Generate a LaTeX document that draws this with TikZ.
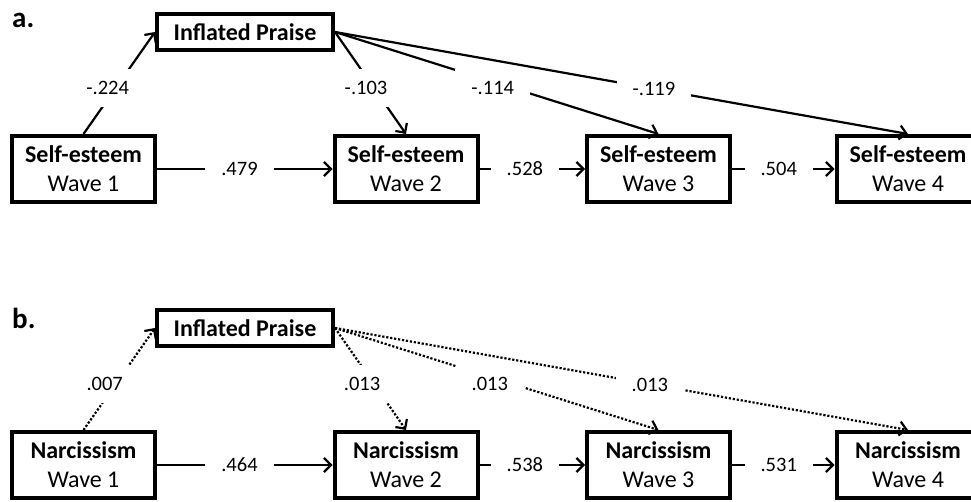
\documentclass[tikz,border=0pt]{standalone}
\usepackage{fontspec}
\setmainfont{Carlito}
\usetikzlibrary{arrows.meta}
\tikzset{
  varbox/.style={draw, line width=4pt, minimum width=143pt, minimum height=66pt,
    inner sep=0pt, align=center, font=\fontsize{24}{29}\selectfont},
  ipbox/.style={draw, line width=4pt, minimum width=176pt, minimum height=36pt,
    inner sep=0pt, font=\fontsize{24}{27}\selectfont\bfseries},
  conn/.style={line width=2.2pt, -{Straight Barb[length=7pt,width=14pt,line width=2.2pt]}},
  dotline/.style={dash pattern=on 2.2pt off 1.8pt},
  lbl/.style={fill=white, inner xsep=16pt, inner ysep=12pt, font=\fontsize{20.5}{24}\selectfont},
  panel/.style={anchor=base west, inner sep=0pt, font=\fontsize{29}{32}\selectfont\bfseries}
}
\begin{document}
\begin{tikzpicture}[x=1pt,y=-1pt]
		\useasboundingbox (0,0) rectangle (971,502);

		% a. self-esteem
		\node[panel] (labA) at (12,28) {a.};
		\node[ipbox] (IPa) at (245,32) {Inflated Praise};
		\node[varbox] (SE1) at (83.5,169) {\textbf{Self-esteem}\\Wave 1};
		\node[varbox] (SE2) at (406,169) {\textbf{Self-esteem}\\Wave 2};
		\node[varbox] (SE3) at (658.5,169) {\textbf{Self-esteem}\\Wave 3};
		\node[varbox] (SE4) at (908,169) {\textbf{Self-esteem}\\Wave 4};
		\begin{scope}[conn]
		    \draw (SE1.north) -- node[lbl,pos=.45,xshift=-8pt]{-.224} (IPa.west);
		    \draw (IPa.east) -- node[lbl,pos=.55,xshift=-8pt]{-.103} (SE2.north);
		    \draw (IPa.east) -- node[lbl,pos=.5,xshift=-4pt,yshift=-5pt]{-.114} (SE3.north);
		    \draw (IPa.east) -- node[lbl,pos=.56,xshift=-2pt]{-.119} (SE4.north);
		    \draw (SE1.east) -- node[lbl,pos=.47]{.479} (SE2.west);
		    \draw (SE2.east) -- node[lbl,pos=.43]{.528} (SE3.west);
		    \draw (SE3.east) -- node[lbl,pos=.456]{.504} (SE4.west);
		\end{scope}

		% b. narcissism
		\node[panel] (labB) at (12,329) {b.};
		\node[ipbox] (IPb) at (245,328) {Inflated Praise};
		\node[varbox] (NA1) at (83.5,465) {\textbf{Narcissism}\\Wave 1};
		\node[varbox] (NA2) at (406,465) {\textbf{Narcissism}\\Wave 2};
		\node[varbox] (NA3) at (658.5,465) {\textbf{Narcissism}\\Wave 3};
		\node[varbox] (NA4) at (908,465) {\textbf{Narcissism}\\Wave 4};
		\begin{scope}[conn]
		    \draw[dotline] (NA1.north) -- node[lbl,pos=.45,xshift=-11pt]{.007} (IPb.west);
		    \draw[dotline] (IPb.east) -- node[lbl,pos=.55,xshift=-12pt]{.013} (NA2.north);
		    \draw[dotline] (IPb.east) -- node[lbl,pos=.5,xshift=-7pt,yshift=-5pt]{.013} (NA3.north);
		    \draw[dotline] (IPb.east) -- node[lbl,pos=.56,xshift=-6pt]{.013} (NA4.north);
		    \draw (NA1.east) -- node[lbl,pos=.47]{.464} (NA2.west);
		    \draw (NA2.east) -- node[lbl,pos=.43]{.538} (NA3.west);
		    \draw (NA3.east) -- node[lbl,pos=.456]{.531} (NA4.west);
		\end{scope}
\end{tikzpicture}
\end{document}
